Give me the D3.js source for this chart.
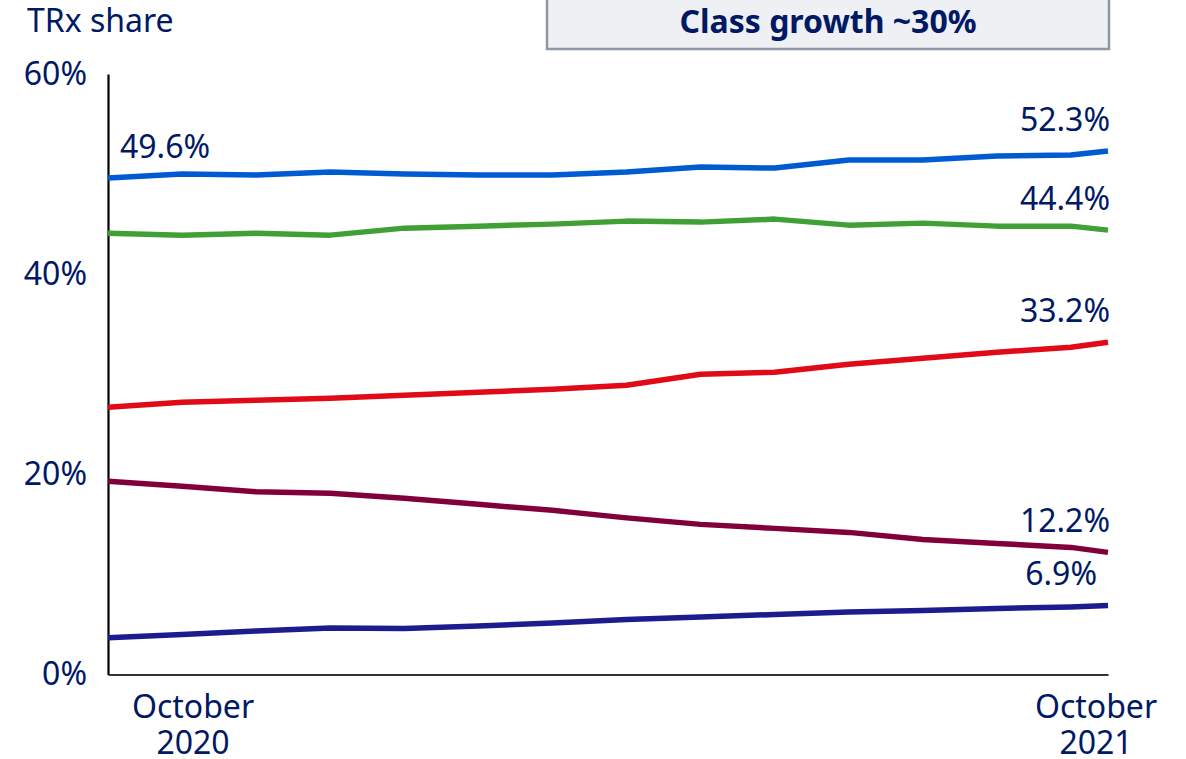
<!DOCTYPE html>
<html>
<head>
<meta charset="utf-8">
<script src="https://cdn.jsdelivr.net/npm/d3@7"></script>
<style>
  html, body { margin: 0; padding: 0; background: #fff; }
  svg { display: block; font-family: "Noto Sans", "Open Sans", sans-serif; }
</style>
</head>
<body>
<svg id="chart" width="1186" height="759"></svg>
<script>
// Week offsets of each data point from October 2020
const weeks = [0, 4, 8, 12, 16, 20, 24, 28, 32, 36, 40, 44, 48, 52, 54];

// TRx share (%) per product
const productA = [49.6, 50.0, 49.9, 50.2, 50.0, 49.9, 49.9, 50.2, 50.7, 50.6, 51.4, 51.4, 51.8, 51.9, 52.3];
const productB = [44.1, 43.9, 44.1, 43.9, 44.6, 44.8, 45.0, 45.3, 45.2, 45.5, 44.9, 45.1, 44.8, 44.8, 44.4];
const productC = [26.7, 27.2, 27.4, 27.6, 27.9, 28.2, 28.5, 28.9, 30.0, 30.2, 31.0, 31.6, 32.2, 32.7, 33.2];
const productD = [19.3, 18.8, 18.25, 18.1, 17.6, 17.0, 16.4, 15.65, 15.0, 14.6, 14.2, 13.5, 13.1, 12.7, 12.2];
const productE = [3.66, 4.0, 4.35, 4.65, 4.6, 4.85, 5.15, 5.5, 5.75, 6.0, 6.25, 6.4, 6.6, 6.75, 6.9];

const yTicks = [0, 20, 40, 60];
const xLabels = [["October", "2020"], ["October", "2021"]];
const calloutText = "Class growth ~30%";
const axisTitle = "TRx share";

const series = [
  { values: productA, color: "#005ad2", labels: ["start", "end"], dx: 2 },
  { values: productB, color: "#40a035", labels: ["end"], dx: 2 },
  { values: productC, color: "#e00a18", labels: ["end"], dx: 2 },
  { values: productD, color: "#82003a", labels: ["end"], dx: 2 },
  { values: productE, color: "#1c1c8e", labels: ["end"], dx: -11 }
];

const ink = "#001965";
const fs = 32;
const svg = d3.select("#chart");

const x = d3.scaleLinear().domain([0, 54]).range([108, 1108]);
const y = d3.scaleLinear().domain([0, 60]).range([674.5, 74]);

// Callout box at the top
svg.append("rect")
  .attr("x", 547).attr("y", -10).attr("width", 562).attr("height", 59)
  .attr("fill", "#eef0f3").attr("stroke", "#8f98a3").attr("stroke-width", 2.5);
svg.append("text")
  .attr("x", 828).attr("y", 33)
  .attr("text-anchor", "middle")
  .attr("font-size", fs).attr("font-weight", 700)
  .attr("fill", ink)
  .text(calloutText);

// Axis title
svg.append("text")
  .attr("x", 27).attr("y", 32)
  .attr("font-size", fs).attr("fill", ink)
  .text(axisTitle);

// Y axis
const yAxis = svg.append("g")
  .attr("transform", `translate(${x(0)},0)`)
  .call(d3.axisLeft(y).tickValues(yTicks).tickSize(0).tickPadding(21).tickFormat(d => d + "%"));
yAxis.select(".domain").attr("stroke", "#000").attr("stroke-width", 2.2);
yAxis.selectAll("text").attr("font-size", fs).attr("fill", ink)
  .attr("font-family", "Noto Sans, Open Sans, sans-serif");

// X axis baseline
const xAxis = svg.append("g")
  .attr("transform", `translate(0,${y(0)})`)
  .call(d3.axisBottom(x).tickValues([]).tickSize(0).tickSizeOuter(0));
xAxis.select(".domain").attr("stroke", "#333").attr("stroke-width", 2.2);

// X axis period labels
const xLabelPos = [x(0) + 85, x(54) - 12];
xLabels.forEach((lines, i) => {
  const t = svg.append("text")
    .attr("text-anchor", "middle")
    .attr("font-size", fs).attr("fill", ink);
  lines.forEach((ln, j) => {
    t.append("tspan").attr("x", xLabelPos[i]).attr("y", 718 + j * 36).text(ln);
  });
});

// Lines
const line = d3.line().x((d, i) => x(weeks[i])).y(d => y(d));
series.forEach(s => {
  svg.append("path")
    .datum(s.values)
    .attr("d", line)
    .attr("fill", "none")
    .attr("stroke", s.color)
    .attr("stroke-width", 5.5)
    .attr("stroke-linejoin", "round");
});

// Value labels at the start and end of the lines
series.forEach(s => {
  s.labels.forEach(side => {
    const idx = side === "start" ? 0 : s.values.length - 1;
    const v = s.values[idx];
    const lx = side === "start" ? x(weeks[0]) + 12 : x(weeks[idx]) + s.dx;
    svg.append("text")
      .attr("x", lx)
      .attr("y", y(v) - 20)
      .attr("text-anchor", side === "start" ? "start" : "end")
      .attr("font-size", fs).attr("fill", ink)
      .text(v.toFixed(1) + "%");
  });
});
</script>
</body>
</html>
